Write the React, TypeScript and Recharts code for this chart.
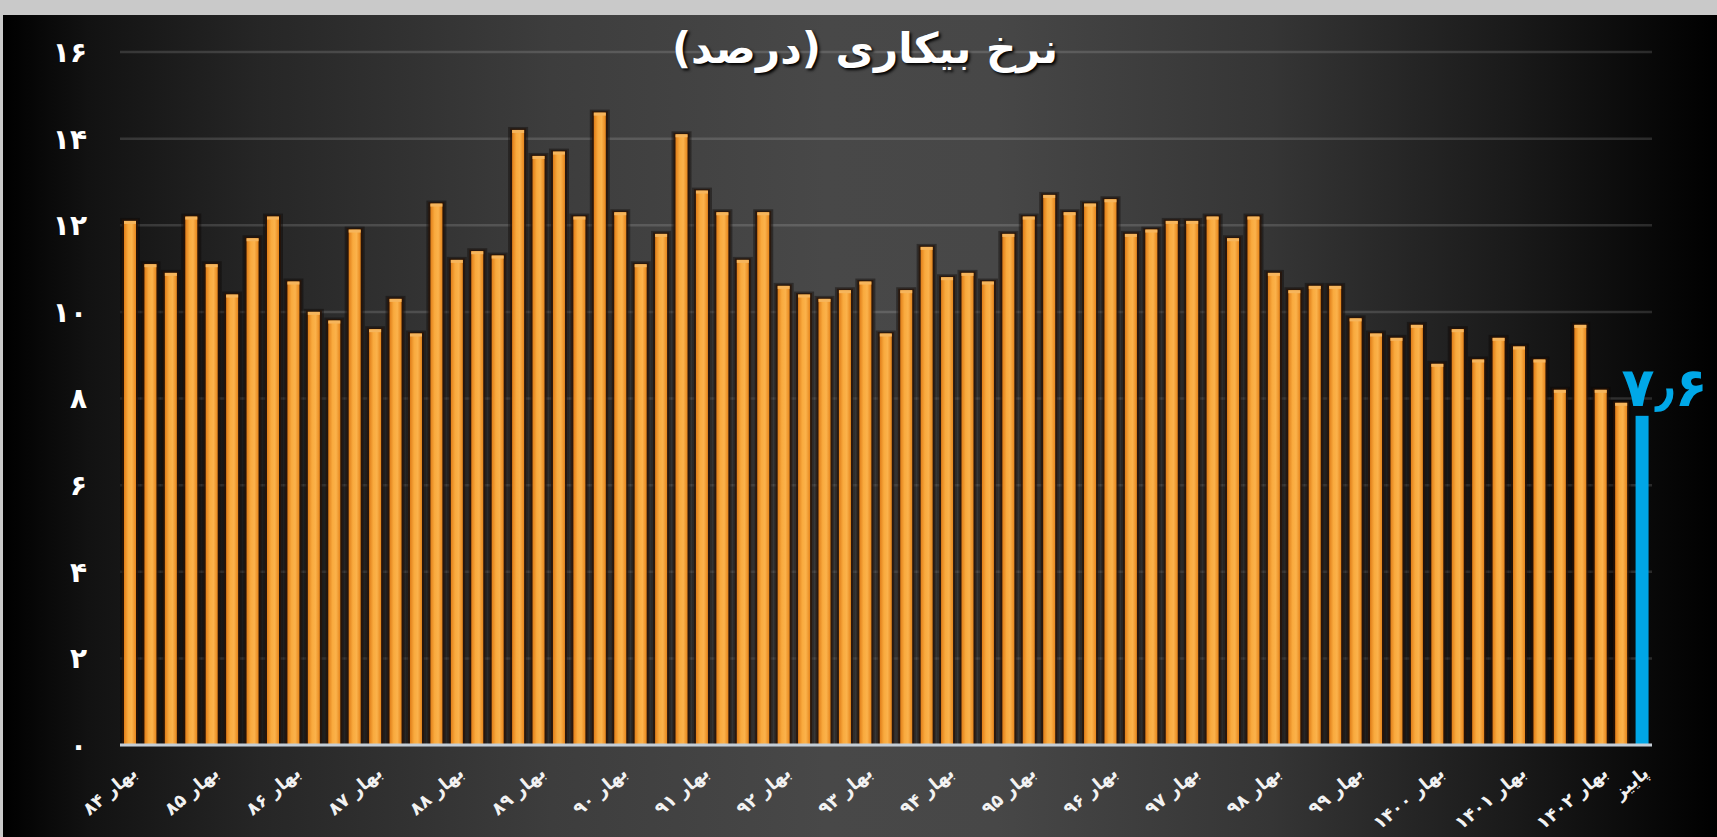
import { BarChart, Bar, XAxis, YAxis, CartesianGrid, LabelList } from 'recharts';

const seasons = ['بهار', 'تابستان', 'پاییز', 'زمستان'];

const years = [
  '84', '85', '86', '87', '88', '89', '90', '91', '92', '93',
  '94', '95', '96', '97', '98', '99', '1400', '1401', '1402',
];

// unemployment rate (%) per season, spring 84 .. autumn 1402
const rates = [
  12.1, 11.1, 10.9, 12.2,
  11.1, 10.4, 11.7, 12.2,
  10.7, 10.0, 9.8, 11.9,
  9.6, 10.3, 9.5, 12.5,
  11.2, 11.4, 11.3, 14.2,
  13.6, 13.7, 12.2, 14.6,
  12.3, 11.1, 11.8, 14.1,
  12.8, 12.3, 11.2, 12.3,
  10.6, 10.4, 10.3, 10.5,
  10.7, 9.5, 10.5, 11.5,
  10.8, 10.9, 10.7, 11.8,
  12.2, 12.7, 12.3, 12.5,
  12.6, 11.8, 11.9, 12.1,
  12.1, 12.2, 11.7, 12.2,
  10.9, 10.5, 10.6, 10.6,
  9.85, 9.5, 9.4, 9.7,
  8.8, 9.6, 8.9, 9.4,
  9.2, 8.9, 8.2, 9.7,
  8.2, 7.9, 7.6,
];

const yTicks = [0, 2, 4, 6, 8, 10, 12, 14, 16];

const toFa = (s: string) => s.replace(/[0-9]/g, (d) => '۰۱۲۳۴۵۶۷۸۹'[+d]);

const data = rates.map((v, i) => {
  const year = years[Math.floor(i / 4)];
  const season = seasons[i % 4];
  const isLast = i === rates.length - 1;
  return {
    key: season + ' ' + toFa(year),
    tick: i % 4 === 0 ? season + ' ' + toFa(year) : isLast ? season : '',
    rate: v,
    isLast,
    note: isLast ? toFa(String(v)).replace('.', '٫') : '',
  };
});

const tickByKey = new Map(data.map((d) => [d.key, d.tick]));

const FONT = '"DejaVu Sans", sans-serif';

function XTick(props: any) {
  const { x, y, payload } = props;
  const label = tickByKey.get(payload.value);
  if (!label) return <g />;
  return (
    <g transform={`translate(${x + 8},${y + 30})`}>
      <text
        transform="rotate(-40)"
        textAnchor="end"
        fill="#f2f2f2"
        fontSize={18}
        fontWeight="bold"
        fontFamily={FONT}
      >
        {label}
      </text>
    </g>
  );
}

function BarShape(props: any) {
  const { x, y, width, height, payload } = props;
  if (payload.isLast) {
    return <rect x={x} y={y} width={width + 1} height={height} fill="#00a6e6" />;
  }
  return (
    <g>
      <rect x={x - 4} y={y - 3} width={width + 8} height={height + 3} fill="#0a0502" opacity={0.4} />
      <rect x={x - 2} y={y - 1.5} width={width + 4} height={height + 1.5} fill="#2a1305" opacity={0.75} />
      <rect x={x} y={y} width={width} height={height} fill="url(#barGrad)" />
      <rect x={x} y={y} width={width} height={3} fill="#f6b55c" />
    </g>
  );
}

function NoteLabel(props: any) {
  const { x, y, width, value } = props;
  if (!value) return null;
  return (
    <text
      x={x + width / 2 - 20}
      y={y - 10}
      fill="#00a8e8"
      fontSize={54}
      fontWeight="bold"
      fontFamily={FONT}
      textAnchor="start"
    >
      {value}
    </text>
  );
}

export default function App() {
  return (
    <div style={{ position: 'absolute', left: 0, top: 0, width: 1717, height: 837, background: '#c9c9c9', overflow: 'hidden' }}>
      <div
        style={{
          position: 'absolute',
          left: 3,
          top: 15,
          width: 1714,
          height: 822,
          background:
            'linear-gradient(to right, #000 0%, #121212 5%, #262626 15%, #3d3d3d 32%, #484848 48%, #474747 58%, #353535 74%, #1a1a1a 88%, #000 100%)',
        }}
      >
        <BarChart
          width={1714}
          height={822}
          data={data}
          margin={{ top: 37, right: 65, bottom: 22, left: 0 }}
          barCategoryGap={0}
        >
          <defs>
            <linearGradient id="barGrad" x1="0" y1="0" x2="1" y2="0">
              <stop offset="0%" stopColor="#df7d18" />
              <stop offset="35%" stopColor="#f9aa3e" />
              <stop offset="65%" stopColor="#fbb24b" />
              <stop offset="100%" stopColor="#e5851c" />
            </linearGradient>
          </defs>
          <CartesianGrid vertical={false} stroke="rgba(255,255,255,0.14)" strokeWidth={2.5} />
          <XAxis
            dataKey="key"
            interval={0}
            height={70}
            tickLine={false}
            tickSize={0}
            tickMargin={0}
            axisLine={{ stroke: '#c5ced6', strokeWidth: 3 }}
            tick={<XTick />}
          />
          <YAxis
            domain={[0, 16]}
            ticks={yTicks}
            width={117}
            axisLine={false}
            tickLine={false}
            tickSize={0}
            tickMargin={33}
            tickFormatter={(v: number) => toFa(String(v))}
            tick={{ fill: '#ffffff', fontSize: 28, fontWeight: 'bold', fontFamily: FONT }}
          />
          <Bar dataKey="rate" barSize={12} shape={<BarShape />} isAnimationActive={false}>
            <LabelList dataKey="note" content={<NoteLabel />} />
          </Bar>
        </BarChart>
      </div>
      <div
        dir="rtl"
        style={{
          position: 'absolute',
          left: 565,
          top: 24,
          width: 600,
          textAlign: 'center',
          color: '#fff',
          fontFamily: FONT,
          fontWeight: 'bold',
          fontSize: 42,
          lineHeight: '50px',
          textShadow: '2px 2px 3px #000',
        }}
      >
        نرخ بیکاری (درصد)
      </div>
    </div>
  );
}
